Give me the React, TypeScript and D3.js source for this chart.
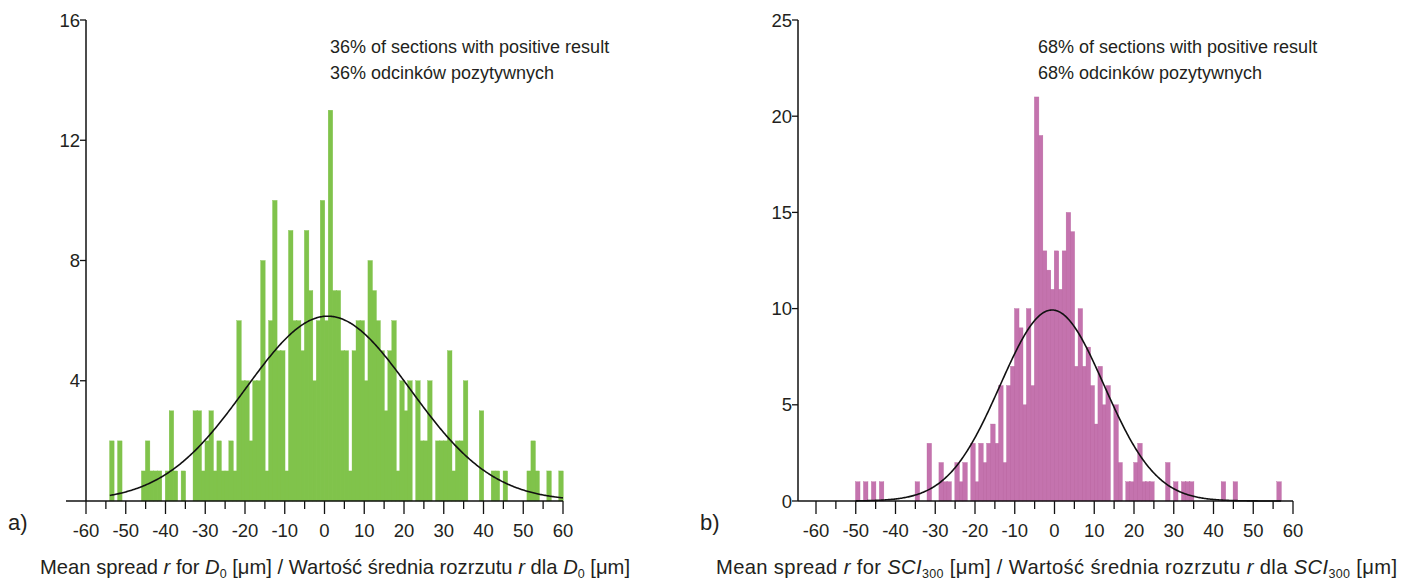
import React from "react";
import * as d3 from "d3";

// ---- Data: histogram a) (D0) ----
const binsA = [-54,-52,-46,-45,-44,-43,-42,-40,-39,-38,-36,-33,-32,-31,-30,-29,-28,-27,-26,-25,-24,-23,-22,-21,-20,-19,-18,-17,-16,-15,-14,-13,-12,-11,-10,-9,-8,-7,-6,-5,-4,-3,-2,-1,0,1,2,3,4,5,6,7,8,9,10,11,12,13,14,15,16,17,18,19,20,21,23,24,25,26,28,29,30,31,32,33,34,35,39,42,43,45,51,52,53,56,59];
const countsA = [2,2,1,2,1,1,1,1,3,1,1,3,3,1,2,3,1,2,1,1,2,1,6,4,4,2,4,4,8,1,6,10,5,5,1,9,6,6,5,9,7,4,6,10,6,13,7,7,5,5,1,5,6,6,4,8,7,6,5,3,5,6,1,4,3,4,4,2,2,4,2,2,2,5,1,2,2,4,3,1,1,1,1,2,1,1,1];
const fitA = { mean: 0.8, sd: 20.7, from: -54, to: 60 };
const yTicksA = [4, 8, 12, 16];
const noteA = ["36% of sections with positive result", "36% odcinków pozytywnych"];

// ---- Data: histogram b) (SCI300) ----
const binsB = [-50,-48,-46,-44,-35,-32,-29,-28,-27,-25,-24,-23,-21,-20,-19,-18,-17,-16,-15,-14,-13,-12,-11,-10,-9,-8,-7,-6,-5,-4,-3,-2,-1,0,1,2,3,4,5,6,7,8,9,10,11,12,13,15,16,18,19,20,21,22,23,24,28,30,32,33,34,42,45,56];
const countsB = [1,1,1,1,1,3,2,1,1,2,1,2,3,1,3,2,3,4,3,6,2,6,7,10,9,5,10,6,21,19,13,12,11,13,11,13,15,14,7,10,7,8,6,4,7,5,6,5,2,1,1,2,3,1,1,1,2,1,1,1,1,1,1,1];
const fitB = { mean: -0.6, sd: 13.06, from: -50, to: 57 };
const yTicksB = [0, 5, 10, 15, 20, 25];
const noteB = ["68% of sections with positive result", "68% odcinków pozytywnych"];

const xTicks = d3.range(-60, 61, 10);
const xMinor = d3.range(-55, 60, 10);

const FONT = "'Liberation Sans', Arial, Helvetica, sans-serif";
const INK = "#231f20";

type PanelProps = {
  bins: number[];
  counts: number[];
  fit: { mean: number; sd: number; from: number; to: number };
  yMax: number;
  yTicks: number[];
  xRange: [number, number];
  yAxisX: number;
  axisStart: number;
  color: string;
  stroke: string;
  note: string[];
  noteX: number;
  letter: string;
  letterX: number;
  titleX: number;
  titleW: number;
  sym: string;
  sub: string;
  showZero: boolean;
};

function Panel(p: PanelProps) {
  const x = d3.scaleLinear().domain([-60, 60]).range(p.xRange);
  const y = d3.scaleLinear().domain([0, p.yMax]).range([501, 20]);
  const N = d3.sum(p.counts);
  const pdf = (v: number) =>
    (N / (p.fit.sd * Math.sqrt(2 * Math.PI))) * Math.exp(-((v - p.fit.mean) ** 2) / (2 * p.fit.sd ** 2));
  const pts = d3.range(p.fit.from, p.fit.to + 0.001, 0.25);
  const line = d3.line<number>().x((v) => x(v)).y((v) => y(pdf(v)));
  const order = d3.range(p.bins.length).sort((a, b) => p.counts[a] - p.counts[b]);

  return (
    <g>
      {order.map((i) => {
        const b = p.bins[i];
        const c = p.counts[i];
        if (c <= 0) return null;
        return (
          <rect
            key={i}
            x={x(b) - 0.3}
            width={x(b + 1) - x(b) + 0.6}
            y={y(c)}
            height={y(0) - y(c)}
            fill={p.color}
            stroke={p.stroke}
            strokeWidth={0.35}
          />
        );
      })}
      <path d={line(pts) || ""} fill="none" stroke="#111" strokeWidth={1.6} />
      {/* x axis */}
      <line x1={p.axisStart} x2={x(60)} y1={y(0)} y2={y(0)} stroke="#111" strokeWidth={1.5} />
      {xTicks.map((t) => (
        <g key={"t" + t}>
          <line x1={x(t)} x2={x(t)} y1={y(0)} y2={y(0) + 13} stroke="#111" strokeWidth={1.3} />
          <text x={x(t)} y={537} fontSize={18.5} textAnchor="middle" fontFamily={FONT} fill={INK}>
            {t}
          </text>
        </g>
      ))}
      {xMinor.map((t) => (
        <line key={"m" + t} x1={x(t)} x2={x(t)} y1={y(0)} y2={y(0) + 8} stroke="#111" strokeWidth={1.3} />
      ))}
      {/* y axis */}
      <line x1={p.yAxisX} x2={p.yAxisX} y1={y(p.yMax)} y2={y(0)} stroke="#111" strokeWidth={1.5} />
      {p.yTicks.map((t) => (
        <g key={"y" + t}>
          <line x1={p.yAxisX - 6} x2={p.yAxisX} y1={y(t)} y2={y(t)} stroke="#111" strokeWidth={1.3} />
          {(t !== 0 || p.showZero) && (
            <text x={p.yAxisX - 6} y={y(t) + 6.5} fontSize={18.5} textAnchor="end" fontFamily={FONT} fill={INK}>
              {t}
            </text>
          )}
        </g>
      ))}
      {/* notes */}
      {p.note.map((s, i) => (
        <text key={"n" + i} x={p.noteX} y={53 + i * 26} fontSize={18} fontFamily={FONT} fill={INK}>
          {s}
        </text>
      ))}
      <text x={p.letterX} y={530} fontSize={22} fontFamily={FONT} fill={INK}>
        {p.letter}
      </text>
      <text
        x={p.titleX}
        y={574}
        fontSize={20.2}
        fontFamily={FONT}
        fill={INK}
        textLength={p.titleW}
        lengthAdjust="spacing"
      >
        <tspan>Mean spread </tspan>
        <tspan fontStyle="italic">r</tspan>
        <tspan> for </tspan>
        <tspan fontStyle="italic">{p.sym}</tspan>
        <tspan fontSize={12.5} dy={4}>{p.sub}</tspan>
        <tspan dy={-4}> [μm] / Wartość średnia rozrzutu </tspan>
        <tspan fontStyle="italic">r</tspan>
        <tspan> dla </tspan>
        <tspan fontStyle="italic">{p.sym}</tspan>
        <tspan fontSize={12.5} dy={4}>{p.sub}</tspan>
        <tspan dy={-4}> [μm]</tspan>
      </text>
    </g>
  );
}

export default function App() {
  return (
    <svg
      width={1410}
      height={580}
      style={{ position: "absolute", left: 0, top: 0, background: "#fff" }}
    >
      <rect width={1410} height={580} fill="#fff" />
      <Panel
        bins={binsA}
        counts={countsA}
        fit={fitA}
        yMax={16}
        yTicks={yTicksA}
        xRange={[86, 563]}
        yAxisX={86}
        axisStart={66}
        color="#80c34b"
        stroke="#80c34b"
        note={noteA}
        noteX={330}
        letter="a)"
        letterX={8}
        titleX={40}
        titleW={590}
        sym="D"
        sub="0"
        showZero={false}
      />
      <Panel
        bins={binsB}
        counts={countsB}
        fit={fitB}
        yMax={25}
        yTicks={yTicksB}
        xRange={[816, 1293]}
        yAxisX={798}
        axisStart={798}
        color="#c473ae"
        stroke="#b8669f"
        note={noteB}
        noteX={1038}
        letter="b)"
        letterX={700}
        titleX={716}
        titleW={681}
        sym="SCI"
        sub="300"
        showZero={true}
      />
    </svg>
  );
}
